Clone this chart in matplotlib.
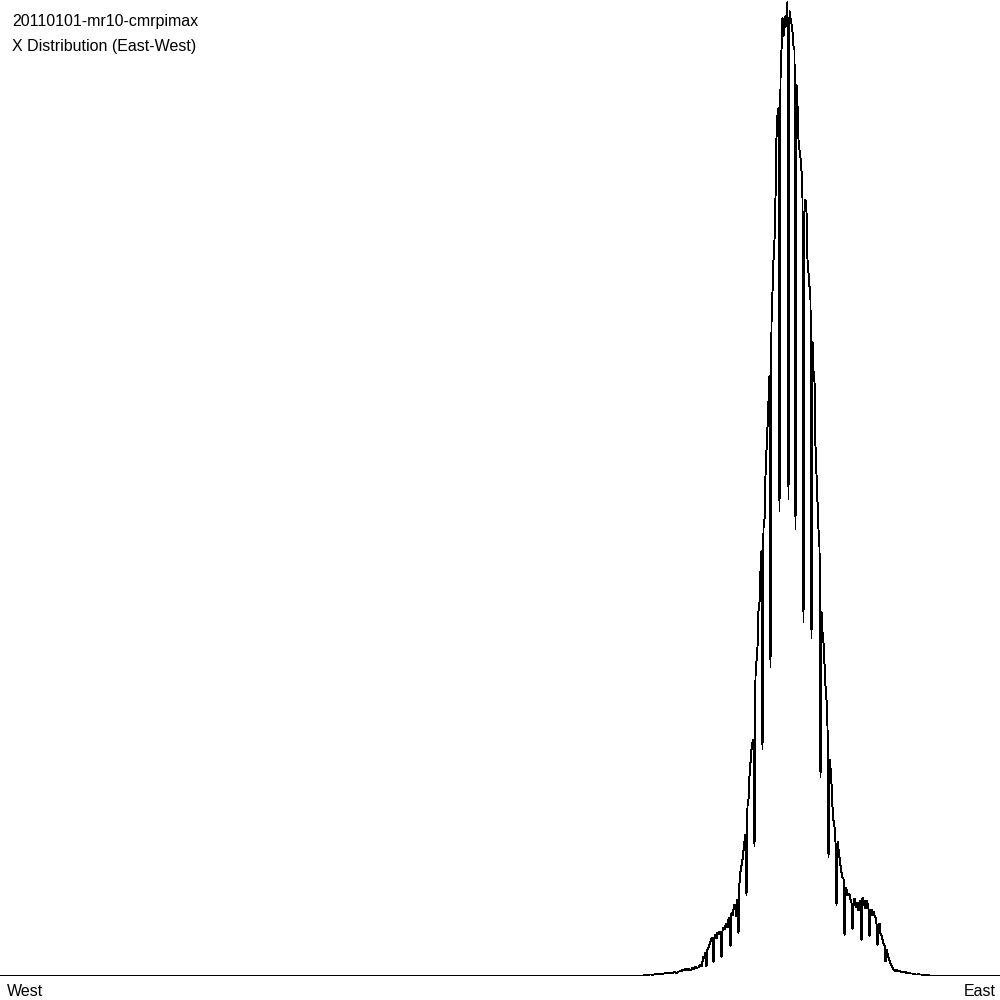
import matplotlib
matplotlib.use("Agg")
import matplotlib.pyplot as plt

# ---- data (heights, baseline = 0) ----
title_lines = ["20110101-mr10-cmrpimax", "X Distribution (East-West)"]
left_label = "West"
right_label = "East"

x_first = 0
x_last = 999
x_start = 640  # first bin of the populated region
counts = [
    0, 0, 0, 0, 1, 0, 1, 1, 0, 1,
    1, 1, 0, 1, 1, 2, 1, 1, 2, 1,
    1, 2, 1, 2, 2, 3, 2, 3, 3, 2,
    3, 2, 2, 3, 4, 3, 2, 3, 4, 4,
    5, 4, 6, 6, 5, 7, 6, 5, 7, 6,
    5, 6, 8, 6, 7, 9, 7, 8, 8, 10,
    11, 9, 14, 19, 17, 23, 9, 26, 28, 31,
    34, 37, 38, 13, 39, 41, 37, 43, 41, 44,
    41, 18, 45, 48, 46, 50, 52, 48, 56, 58,
    29, 63, 60, 66, 71, 68, 59, 76, 42, 93,
    104, 110, 116, 125, 134, 141, 80, 170, 176, 200,
    213, 226, 233, 236, 129, 300, 314, 329, 365, 373,
    405, 425, 226, 448, 456, 500, 526, 549, 576, 600,
    308, 653, 684, 716, 736, 779, 839, 861, 868, 464,
    898, 926, 958, 940, 948, 960, 950, 974, 476, 965,
    958, 952, 944, 930, 926, 446, 891, 871, 836, 826,
    818, 805, 778, 353, 776, 776, 764, 716, 703, 690,
    676, 337, 634, 605, 594, 529, 502, 473, 446, 429,
    198, 364, 343, 333, 311, 290, 276, 249, 118, 216,
    208, 192, 168, 155, 149, 134, 70, 134, 126, 118,
    110, 103, 98, 98, 40, 88, 86, 80, 82, 81,
    76, 73, 46, 70, 77, 70, 68, 73, 65, 70,
    75, 35, 78, 75, 70, 67, 75, 72, 67, 39,
    63, 66, 60, 64, 60, 58, 52, 30, 50, 52,
    42, 40, 36, 32, 30, 14, 26, 22, 18, 15,
    12, 10, 8, 6, 5, 4, 6, 5, 4, 5,
    4, 3, 4, 3, 3, 4, 2, 3, 2, 3,
    2, 2, 2, 1, 2, 1, 1, 1, 2, 1,
    1, 1, 0, 1, 0, 1, 0, 0, 1, 0,
]

xs = [x_first] + [x_start + i for i in range(len(counts))] + [x_last]
ys = [0] + counts + [0]

plt.rcParams['font.family'] = ['Liberation Sans', 'DejaVu Sans']

W, H = 1000, 1000
fig = plt.figure(figsize=(10, 10), dpi=100)
fig.patch.set_facecolor("white")

base_px = 976
ax = fig.add_axes([0, 1 - base_px / H, 1, base_px / H])
ax.plot([x + 0.5 for x in xs], ys, color="black", linewidth=0.68,
        antialiased=False, solid_joinstyle="miter")
ax.set_xlim(0, 1000)
ax.set_ylim(-0.5, base_px)
ax.axis("off")

fs = 11.5
fig.text(12 / W, 1 - 26 / H, title_lines[0], fontsize=fs, va="baseline", ha="left")
fig.text(12 / W, 1 - 51 / H, title_lines[1], fontsize=fs, va="baseline", ha="left")
fig.text(7 / W, 1 - 996 / H, left_label, fontsize=fs, va="baseline", ha="left")
fig.text(996 / W, 1 - 996 / H, right_label, fontsize=fs, va="baseline", ha="right")

fig.savefig("out.png", dpi=100, facecolor="white")
